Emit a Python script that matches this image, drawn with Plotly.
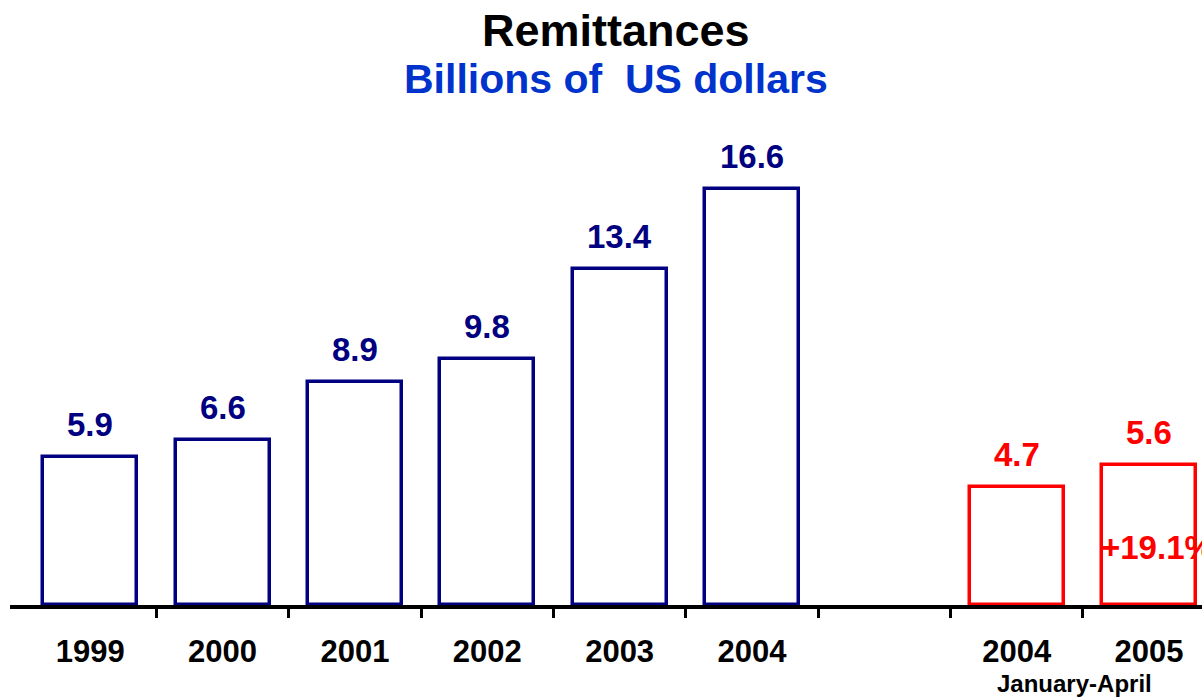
import plotly.graph_objects as go

# Data
annual_years = ["1999", "2000", "2001", "2002", "2003", "2004"]
annual_values = [5.9, 6.6, 8.9, 9.8, 13.4, 16.6]
partial_years = ["2004", "2005"]
partial_values = [4.7, 5.6]
partial_period = "January-April"
growth_label = "+19.1%"
growth_label_y = 2.3
title_text = "Remittances"
subtitle_text = "Billions of  US dollars"

NAVY = "#000080"
RED = "#FF0000"
FONT = "Liberation Sans, Arial, sans-serif"

x_annual = list(range(len(annual_years)))
x_partial = [len(annual_years) + 1 + i for i in range(len(partial_years))]
n_slots = x_partial[-1] + 1
boundaries = [i + 0.5 for i in range(n_slots - 1)]

fig = go.Figure()
fig.add_trace(go.Bar(
    x=x_annual, y=annual_values, width=0.71,
    marker=dict(color="white", line=dict(color=NAVY, width=3.5)),
    showlegend=False, hoverinfo="skip",
))
fig.add_trace(go.Bar(
    x=x_partial, y=partial_values, width=0.71,
    marker=dict(color="white", line=dict(color=RED, width=3.5)),
    showlegend=False, hoverinfo="skip",
))

# value labels
for xs, vs, col in [(x_annual, annual_values, NAVY), (x_partial, partial_values, RED)]:
    for x, v in zip(xs, vs):
        fig.add_annotation(x=x, y=v, text=f"<b>{v:.1f}</b>", showarrow=False,
                           yanchor="bottom", yshift=12,
                           font=dict(family=FONT, size=33, color=col))

fig.add_annotation(x=x_partial[-1], y=growth_label_y, text=f"<b>{growth_label}</b>", showarrow=False,
                   font=dict(family=FONT, size=33, color=RED), xshift=8)

fig.add_annotation(x=(x_partial[0] + x_partial[-1]) / 2, y=0, text=f"<b>{partial_period}</b>",
                   showarrow=False, yanchor="middle", yshift=-78, xshift=-8,
                   font=dict(family=FONT, size=24, color="black"))

fig.add_annotation(xref="paper", yref="paper", x=0.508, y=1, yshift=120, text=f"<b>{title_text}</b>",
                   showarrow=False, yanchor="middle",
                   font=dict(family=FONT, size=45, color="black"))
fig.add_annotation(xref="paper", yref="paper", x=0.508, y=1, yshift=71, text=f"<b>{subtitle_text}</b>",
                   showarrow=False, yanchor="middle",
                   font=dict(family=FONT, size=41, color="#0033CC"))

fig.update_layout(
    width=1202, height=699,
    margin=dict(l=10, r=0, t=150, b=94),
    paper_bgcolor="white", plot_bgcolor="white",
    bargap=0,
)
fig.update_xaxes(
    range=[-0.606, 8.4],
    tickvals=x_annual + x_partial,
    ticktext=[f"<b>{y}</b>" for y in annual_years + partial_years],
    ticks="", ticklabelstandoff=16,
    tickfont=dict(family=FONT, size=31, color="black"),
    showline=True, linecolor="black", linewidth=4,
    showgrid=False, zeroline=False,
    minor=dict(tickvals=boundaries, ticks="outside", ticklen=9, tickwidth=3, tickcolor="black", showgrid=False),
)
fig.update_yaxes(range=[0, 18.16], visible=False, showgrid=False, zeroline=False)

fig.write_html("out.html", config={"displayModeBar": False},
               post_script="document.body.style.margin='0px';document.body.style.overflow='hidden';")
